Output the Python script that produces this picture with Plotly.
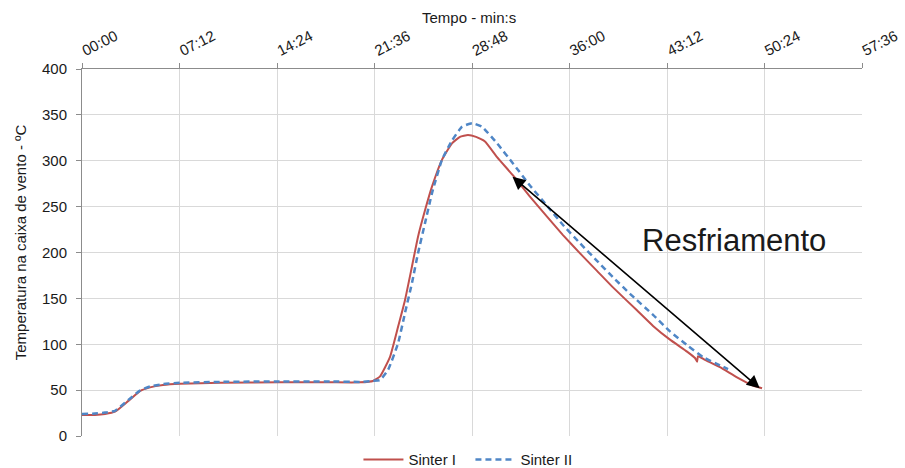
import plotly.graph_objects as go

# ---- data (time in minutes, temperature in ºC) ----
t_sinter1 = [0.0, 0.96, 1.70, 2.44, 3.40, 4.28, 5.02, 5.98, 7.24, 10.19, 14.62, 18.31, 20.53,
             21.49, 22.01, 22.74, 23.34, 23.85, 24.37, 24.81, 25.33, 25.85, 26.58, 27.32,
             27.91, 28.50, 29.10, 29.76, 30.65, 31.83, 33.08, 34.34, 35.52, 36.78, 38.03,
             39.21, 40.98, 42.17, 43.42, 44.68, 45.27, 45.42, 45.49, 46.01, 47.11, 48.37,
             49.55, 50.22]
temp_sinter1 = [23, 23, 24, 26.5, 38, 49, 53, 55.6, 57, 58, 58.5, 58.5, 58.5,
                60, 65, 86, 119, 148, 185, 217, 246, 272, 301, 319,
                326, 328, 326, 321, 304, 284, 261, 239, 219, 199, 180,
                162, 137, 120, 105, 92, 85, 81, 87, 83, 75, 64,
                55, 52]

t_sinter2 = [0.0, 0.96, 1.70, 2.44, 3.40, 4.28, 5.02, 5.98, 7.24, 10.19, 14.62, 18.31, 20.53,
             21.49, 22.01, 22.60, 23.34, 23.85, 24.37, 24.81, 25.33, 25.85, 26.58, 27.32,
             28.06, 28.80, 29.54, 30.65, 31.83, 33.08, 34.34, 35.52, 36.78, 38.03, 39.21,
             40.47, 42.17, 43.42, 44.68, 45.86, 47.11, 47.71]
temp_sinter2 = [24, 24.5, 25.5, 27.5, 39, 49.5, 54, 56.5, 58, 59, 59.5, 59.5, 59,
                60, 61, 72, 101, 134, 167, 199, 232, 265, 301, 322,
                337, 341, 337, 319, 297, 273, 251, 230, 210, 191, 173,
                155, 132, 114, 99, 86, 77, 73]

x_tick_vals = [0, 7.2, 14.4, 21.6, 28.8, 36.0, 43.2, 50.4, 57.6]
x_tick_text = ["00:00", "07:12", "14:24", "21:36", "28:48", "36:00", "43:12", "50:24", "57:36"]
y_tick_vals = [0, 50, 100, 150, 200, 250, 300, 350, 400]

arrow_start = (31.68, 284)
arrow_end = (50.05, 52)

FONT = "Liberation Sans, Arial, sans-serif"
TXT = "#1a1a1a"

fig = go.Figure()
fig.add_trace(go.Scatter(
    x=t_sinter1, y=temp_sinter1, name="Sinter I", mode="lines",
    line=dict(color="#c0504d", width=2, shape="spline", smoothing=0.4)))
fig.add_trace(go.Scatter(
    x=t_sinter2, y=temp_sinter2, name="Sinter II", mode="lines",
    line=dict(color="#4f86c6", width=2.5, dash="6px,4px", shape="spline", smoothing=0.4)))

fig.update_layout(
    width=905, height=468,
    margin=dict(l=82, r=43, t=69, b=32, autoexpand=False),
    paper_bgcolor="white", plot_bgcolor="white",
    font=dict(family=FONT, size=14, color=TXT),
    showlegend=True,
    legend=dict(orientation="h", x=0.498, xanchor="center", y=-0.065, yanchor="middle",
                font=dict(size=15, color=TXT), bgcolor="rgba(0,0,0,0)",
                entrywidth=57, entrywidthmode="pixels", itemwidth=40),
    xaxis=dict(side="top", range=[0, 57.6], tickmode="array", automargin=False,
               tickvals=x_tick_vals, ticktext=x_tick_text, tickangle=-27,
               showgrid=True, gridcolor="#d9d9d9", gridwidth=1,
               showline=True, linecolor="#8c8c8c", linewidth=1,
               ticks="outside", ticklen=5, tickcolor="#8c8c8c",
               tickfont=dict(size=15, color=TXT), zeroline=False),
    yaxis=dict(range=[0, 400], tickmode="array", tickvals=y_tick_vals, automargin=False,
               showgrid=True, gridcolor="#d9d9d9", gridwidth=1,
               showline=True, linecolor="#8c8c8c", linewidth=1,
               ticks="outside", ticklen=5, tickcolor="#8c8c8c", ticklabelstandoff=6,
               tickfont=dict(size=15, color=TXT), zeroline=False),
)

fig.add_annotation(text="Tempo - min:s", xref="paper", yref="paper",
                   x=0.496, y=1.139, showarrow=False,
                   font=dict(size=15, color=TXT), xanchor="center", yanchor="middle")
fig.add_annotation(text="Temperatura na caixa de vento - ºC", xref="paper", yref="paper",
                   x=-0.079, y=0.529, showarrow=False, textangle=-90,
                   font=dict(size=15, color=TXT), xanchor="center", yanchor="middle")
fig.add_annotation(text="Resfriamento", xref="paper", yref="paper",
                   x=(734 - 82) / 780, y=(436 - 240) / 367, showarrow=False,
                   font=dict(size=31, color=TXT), xanchor="center", yanchor="middle")
fig.add_annotation(x=arrow_end[0], y=arrow_end[1], ax=arrow_start[0], ay=arrow_start[1],
                   xref="x", yref="y", axref="x", ayref="y", text="",
                   showarrow=True, arrowhead=2, startarrowhead=2, arrowside="end+start",
                   arrowsize=1.6, startarrowsize=1.6, arrowwidth=1.6, arrowcolor="black")

fig.write_html("out.html", config={"displayModeBar": False},
               post_script="document.body.style.margin='0';document.body.style.overflow='hidden';")
